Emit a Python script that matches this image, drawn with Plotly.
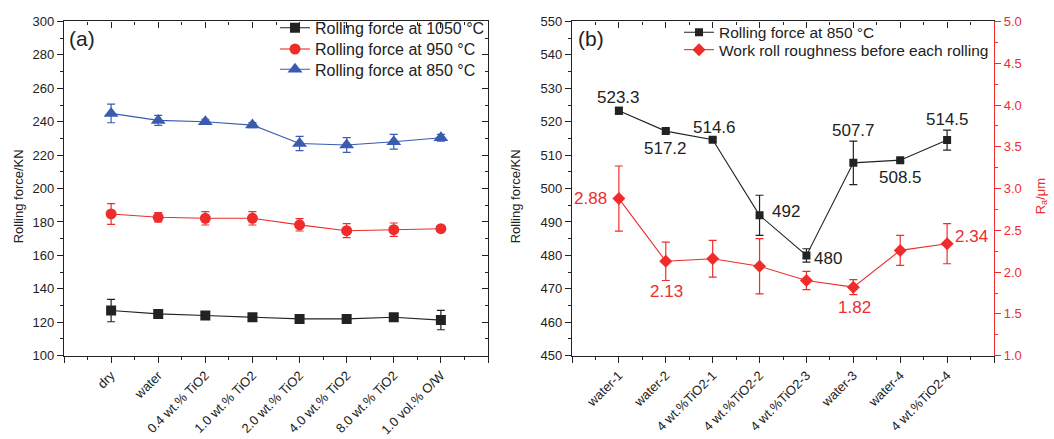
import plotly.graph_objects as go

# ---------------- data ----------------
# panel (a): rolling force vs lubrication condition
cond_a = ["dry", "water", "0.4 wt.% TiO2", "1.0 wt.% TiO2", "2.0 wt.% TiO2",
          "4.0 wt.% TiO2", "8.0 wt.% TiO2", "1.0 vol.% O/W"]
force_1050 = [127.0, 125.0, 124.0, 123.0, 122.0, 122.0, 123.0, 121.3]
err_1050 = [6.7, 1.0, 1.5, 1.5, 2.5, 1.0, 1.0, 5.8]
force_950 = [184.8, 182.8, 182.2, 182.2, 178.3, 174.8, 175.4, 176.0]
err_950 = [6.2, 2.8, 4.0, 4.0, 3.7, 4.2, 4.0, 1.0]
force_850 = [245.0, 240.8, 240.0, 238.0, 227.0, 226.1, 228.0, 230.4]
err_850 = [5.6, 3.0, 1.5, 1.5, 4.3, 4.4, 4.4, 2.0]

# panel (b): rolling force at 850 °C and work roll roughness
cond_b = ["water-1", "water-2", "4 wt.%TiO2-1", "4 wt.%TiO2-2", "4 wt.%TiO2-3",
          "water-3", "water-4", "4 wt.%TiO2-4"]
force_b = [523.3, 517.2, 514.6, 492.0, 480.0, 507.7, 508.5, 514.5]
err_force_b = [1.0, 0.5, 0.5, 6.0, 2.0, 6.5, 0.5, 3.0]
rough_b = [2.88, 2.13, 2.16, 2.07, 1.90, 1.82, 2.26, 2.34]
err_rough_b = [0.39, 0.23, 0.22, 0.33, 0.11, 0.09, 0.18, 0.24]
rough_labelled = [True, True, False, False, False, True, False, True]

# ---------------- styling ----------------
FONT = "Liberation Sans, Arial, sans-serif"
INK = "#222222"
RED = "#ee2c2c"
BLUE = "#3a5bb0"
W, H = 1054, 439

xa_dom = [64 / W, 488 / W]
xb_dom = [572 / W, 994 / W]
y_dom = [78 / H, 424 / H]

idx = list(range(len(cond_a)))
x_lo, x_hi = -1, len(idx)
minor_x = [i + 0.5 for i in range(x_lo, len(idx))]

fig = go.Figure()


def series(x, y, err, color, symbol, size, name, xaxis, yaxis, legend):
    return go.Scatter(
        x=x, y=y, name=name, mode="lines+markers",
        xaxis=xaxis, yaxis=yaxis, legend=legend,
        line=dict(color=color, width=1.1),
        marker=dict(color=color, symbol=symbol, size=size, line=dict(width=0)),
        error_y=dict(type="data", array=err, color=color, thickness=1.2, width=4),
    )


def frame_trace(xaxis, yaxis):
    # empty trace that only makes an extra frame axis pair render
    return go.Scatter(x=[None], y=[None], xaxis=xaxis, yaxis=yaxis,
                      showlegend=False, hoverinfo="skip")


# panel (a)
fig.add_trace(series(idx, force_1050, err_1050, INK, "square", 10,
                     "Rolling force at 1050 °C", "x", "y", "legend"))
fig.add_trace(series(idx, force_950, err_950, RED, "circle", 11,
                     "Rolling force at 950 °C", "x", "y", "legend2"))
fig.add_trace(series(idx, force_850, err_850, BLUE, "triangle-up", 13,
                     "Rolling force at 850 °C", "x", "y", "legend3"))
fig.add_trace(frame_trace("x3", "y3"))
fig.add_trace(frame_trace("x5", "y3"))

# panel (b)
fig.add_trace(series(idx, force_b, err_force_b, INK, "square", 8,
                     "Rolling force at 850 °C", "x2", "y2", "legend4"))
fig.add_trace(series(idx, rough_b, err_rough_b, RED, "diamond", 10,
                     "Work roll roughness before each rolling", "x2", "y4", "legend5"))
fig.add_trace(frame_trace("x4", "y4"))
fig.add_trace(frame_trace("x6", "y4"))

tick_font = dict(family=FONT, size=13, color=INK)


def x_axis(domain, anchor, labels, **kw):
    d = dict(
        domain=domain, anchor=anchor, range=[x_lo, x_hi],
        tickmode="array", tickvals=idx, ticktext=labels,
        tickangle=-45, tickfont=tick_font,
        ticks="outside", ticklen=6, tickwidth=1.2, tickcolor=INK,
        showline=True, linecolor=INK, linewidth=1.2,
        showgrid=False, zeroline=False,
        minor=dict(tickmode="array", tickvals=minor_x, ticks="outside",
                   ticklen=3, tickwidth=1.2, tickcolor=INK, showgrid=False),
    )
    d.update(kw)
    return d


def end_ticks(anchor, over):
    # long ticks at both ends of a category axis
    return dict(overlaying=over, anchor=anchor, side="bottom", range=[x_lo, x_hi],
                tickmode="array", tickvals=[x_lo, x_hi], showticklabels=False,
                ticks="outside", ticklen=6, tickwidth=1.2, tickcolor=INK,
                showline=False, showgrid=False, zeroline=False)


def y_axis(domain, anchor, rng, dtick, mdtick, color=INK, **kw):
    d = dict(
        domain=domain, anchor=anchor, range=rng,
        tickmode="linear", tick0=rng[0], dtick=dtick,
        tickfont=dict(family=FONT, size=13, color=color),
        ticks="outside", ticklen=6, tickwidth=1.2, tickcolor=color,
        showline=True, linecolor=color, linewidth=1.2,
        showgrid=False, zeroline=False,
        minor=dict(tick0=rng[0], dtick=mdtick, ticks="outside", ticklen=3,
                   tickwidth=1.2, tickcolor=color, showgrid=False),
    )
    d.update(kw)
    return d


layout = dict(
    width=W, height=H,
    margin=dict(l=0, r=0, t=0, b=0),
    paper_bgcolor="white", plot_bgcolor="white",
    font=dict(family=FONT, color=INK),
    xaxis=x_axis(xa_dom, "y", cond_a),
    yaxis=y_axis(y_dom, "x", [100, 300], 20, 10),
    xaxis2=x_axis(xb_dom, "y2", cond_b),
    yaxis2=y_axis(y_dom, "x2", [450, 550], 10, 5),
    xaxis5=end_ticks("y3", "x"),
    xaxis6=end_ticks("y4", "x2"),
)

# top / right frame of panel (a) with inward ticks
xa3 = x_axis(xa_dom, "y3", cond_a, overlaying="x", side="top",
             showticklabels=False, ticks="inside")
xa3["minor"]["ticks"] = "inside"
ya3 = y_axis(y_dom, "x3", [100, 300], 20, 10, overlaying="y", side="right",
             showticklabels=False, ticks="inside")
ya3["minor"]["ticks"] = "inside"
layout["xaxis3"] = xa3
layout["yaxis3"] = ya3

# top frame of panel (b) and red roughness axis on the right
xa4 = x_axis(xb_dom, "y4", cond_b, overlaying="x2", side="top",
             showticklabels=False, ticks="inside")
xa4["minor"]["ticks"] = "inside"
ya4 = y_axis(y_dom, "x2", [1.0, 5.0], 0.5, 0.25, color=RED, overlaying="y2",
             side="right", tickformat=".1f")
layout["xaxis4"] = xa4
layout["yaxis4"] = ya4

# one legend box per entry so each row sits at its own height
legend_rows = {
    "legend": (275, 4, 16), "legend2": (275, 26, 16), "legend3": (275, 47, 16),
    "legend4": (679, 9, 15.5), "legend5": (679, 27, 15.5),
}
for key, (lx, ly, fs) in legend_rows.items():
    layout[key] = dict(
        x=lx / W, y=1 - ly / H, xanchor="left", yanchor="top",
        bgcolor="rgba(0,0,0,0)", borderwidth=0,
        font=dict(family=FONT, size=fs, color=INK),
    )

fig.update_layout(**layout)

# panel letters
fig.add_annotation(text="(a)", xref="paper", yref="paper", x=67 / W, y=1 - 33 / H,
                   xanchor="left", yanchor="middle", showarrow=False,
                   font=dict(family=FONT, size=21, color=INK))
fig.add_annotation(text="(b)", xref="paper", yref="paper", x=576 / W, y=1 - 33 / H,
                   xanchor="left", yanchor="middle", showarrow=False,
                   font=dict(family=FONT, size=21, color=INK))

# axis titles
ymid = 1 - 196 / H
for xpx, txt, col in [(18, "Rolling force/KN", INK), (515, "Rolling force/KN", INK),
                      (1041, "R<sub>a</sub>/μm", RED)]:
    fig.add_annotation(text=txt, xref="paper", yref="paper", x=xpx / W, y=ymid,
                       xanchor="center", yanchor="middle", textangle=-90,
                       showarrow=False, font=dict(family=FONT, size=13, color=col))

# value labels on the rolling force series (panel b): (x shift, y shift, anchor)
force_pos = [(0, 13, "center"), (0, -17, "center"), (2, 12, "center"),
             (10, 4, "left"), (6, -3, "left"), (0, 32, "center"),
             (0, -17, "center"), (0, 21, "center")]
for i, (v, (dx, dy, xa)) in enumerate(zip(force_b, force_pos)):
    fig.add_annotation(text=f"{v:g}", x=i, y=v, xref="x2", yref="y2",
                       xshift=dx, yshift=dy, xanchor=xa, yanchor="middle",
                       showarrow=False, font=dict(family=FONT, size=17, color=INK))

rough_pos = [(-10, 0, "right"), (1, -30, "center"), None, None, None,
             (1, -20, "center"), None, (6, 7, "left")]
for i, (v, show, pos) in enumerate(zip(rough_b, rough_labelled, rough_pos)):
    if not show:
        continue
    dx, dy, xa = pos
    fig.add_annotation(text=f"{v:.2f}", x=i, y=v, xref="x2", yref="y4",
                       xshift=dx, yshift=dy, xanchor=xa, yanchor="middle",
                       showarrow=False, font=dict(family=FONT, size=17, color=RED))

fig.write_html("out.html")
